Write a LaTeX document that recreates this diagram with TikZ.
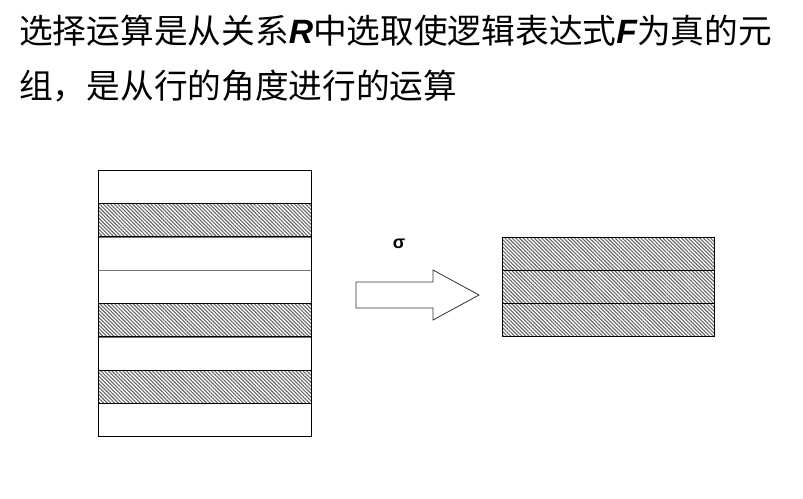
\documentclass[tikz,border=0pt]{standalone}
\usepackage{fontspec}
\setmainfont{Liberation Sans}
\newfontfamily\cjk{Noto Sans CJK SC}
\usetikzlibrary{patterns.meta}
\tikzset{
  hatch/.style={pattern={Lines[angle=-45,distance=2.6pt,line width=1.1pt]},pattern color=black!60,draw=black,line width=0.9pt},
  plainrow/.style={draw=black!55,line width=0.9pt},
  outer/.style={draw=black,line width=1pt},
  txt/.style={anchor=west,inner sep=0pt,font=\fontsize{33.7}{40}\selectfont\cjk},
  fatarrow/.style={draw=black!80,line width=0.8pt,fill=white}
}
\begin{document}
\begin{tikzpicture}[x=1pt,y=-1pt]
\useasboundingbox (0,0) rectangle (803,498);
\node[txt] (l1) at (19,31) {选择运算是从关系{\rmfamily\bfseries\itshape R}中选取使逻辑表达式{\rmfamily\bfseries\itshape F}为真的元};
\node[txt] (l2) at (19,86) {组，是从行的角度进行的运算};
% left table
\foreach \y in {237,270,337,403}{\draw[plainrow] (98,\y) -- (311,\y);}
\foreach \y in {203,303,370}{\draw[hatch] (98,\y) rectangle (311,\y+33.5);}
\draw[outer] (98,170) rectangle (311,436);
% arrow
\draw[fatarrow] (356,282) -- (433,282) -- (433,270) -- (479,295) -- (433,320) -- (433,308) -- (356,308) -- cycle;
\node[font=\bfseries\fontsize{18}{20}\selectfont] (sig) at (399,244) {σ};
% right table
\foreach \y in {237,270,303}{\draw[hatch] (502,\y) rectangle (714,\y+33);}
\draw[outer] (502,237) rectangle (714,336);
\end{tikzpicture}
\end{document}
